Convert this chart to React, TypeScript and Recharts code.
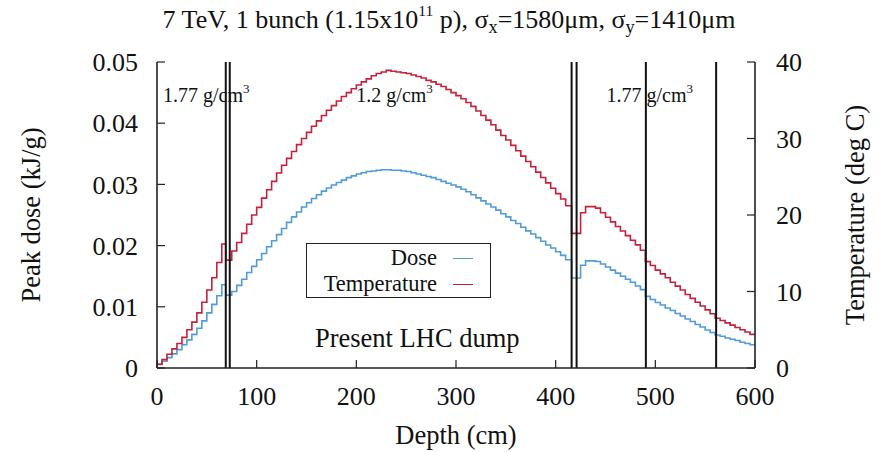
import React from 'react';
import { LineChart, Line, XAxis, YAxis, ReferenceLine, ReferenceDot, Legend } from 'recharts';

const FONT = '"Liberation Serif", "Times New Roman", serif';

// Bin start depths (cm); step functions (value holds until next depth)
const depthCm = [
  0, 5, 10, 15, 20, 25, 30, 35, 40, 45, 50, 55, 60, 65,
  69, 75, 80, 85, 90, 95, 100, 105, 110, 115,
  120, 125, 130, 135, 140, 145, 150, 155, 160, 165,
  170, 175, 180, 185, 190, 195, 200, 205, 210, 215,
  220, 225, 230, 235, 240, 245, 250, 255, 260, 265,
  270, 275, 280, 285, 290, 295, 300, 305, 310, 315,
  320, 325, 330, 335, 340, 345, 350, 355, 360, 365,
  370, 375, 380, 385, 390, 395, 400, 405, 410,
  416, 425, 430, 435, 440, 445, 450, 455, 460, 465, 470, 475, 480, 485,
  490, 495, 500, 505, 510, 515, 520, 525, 530, 535, 540, 545, 550, 555,
  560, 565, 570, 575, 580, 585, 590, 595, 600,
];

// Peak dose (kJ/g)
const peakDose = [
  0.0006, 0.0011, 0.0017, 0.0023, 0.0030, 0.0038, 0.0046, 0.0055, 0.0065, 0.0077, 0.0090, 0.0104, 0.0118, 0.0136,
  0.0119, 0.0125, 0.0135, 0.0145, 0.0156, 0.0166, 0.0177, 0.0187, 0.0198, 0.0208,
  0.0218, 0.0228, 0.0238, 0.0247, 0.0255, 0.0263, 0.0270, 0.0277, 0.0283, 0.0289,
  0.0294, 0.0299, 0.0303, 0.0307, 0.0311, 0.0314, 0.0317, 0.0319, 0.0321, 0.0322,
  0.0323, 0.0324, 0.0324, 0.0323, 0.0323, 0.0322, 0.0321, 0.0319, 0.0317, 0.0315,
  0.0313, 0.0311, 0.0308, 0.0305, 0.0302, 0.0299, 0.0296, 0.0292, 0.0288, 0.0283,
  0.0278, 0.0273, 0.0268, 0.0263, 0.0258, 0.0252, 0.0247, 0.0241, 0.0236, 0.0230,
  0.0224, 0.0219, 0.0213, 0.0207, 0.0201, 0.0196, 0.0190, 0.0184, 0.0177,
  0.0147, 0.0168, 0.0175, 0.0175, 0.0174, 0.0170, 0.0165, 0.0160, 0.0155, 0.0150, 0.0145, 0.0140, 0.0134, 0.0128,
  0.0117, 0.0112, 0.0107, 0.0103, 0.0098, 0.0094, 0.0089, 0.0085, 0.0080, 0.0076, 0.0071, 0.0067, 0.0062, 0.0058,
  0.0054, 0.0052, 0.0049, 0.0047, 0.0045, 0.0042, 0.0040, 0.0038, 0.0038,
];

// Temperature (deg C)
const temperature = [
  0.5, 1.1, 1.8, 2.5, 3.2, 4.0, 5.0, 6.0, 7.2, 8.6, 10.2, 11.8, 13.8, 16.2,
  14.1, 15.3, 16.4, 17.6, 18.8, 20.0, 21.0, 22.2, 23.3, 24.4,
  25.5, 26.5, 27.4, 28.3, 29.2, 30.0, 30.8, 31.6, 32.3, 33.0,
  33.7, 34.3, 34.9, 35.5, 36.0, 36.5, 37.0, 37.4, 37.8, 38.2,
  38.5, 38.7, 38.9, 38.8, 38.7, 38.6, 38.5, 38.3, 38.1, 37.9,
  37.6, 37.4, 37.1, 36.8, 36.4, 36.0, 35.6, 35.2, 34.7, 34.2,
  33.6, 33.0, 32.4, 31.8, 31.1, 30.4, 29.8, 29.1, 28.4, 27.7,
  27.0, 26.3, 25.6, 24.9, 24.2, 23.5, 22.8, 22.1, 21.2,
  17.6, 20.3, 21.1, 21.1, 20.9, 20.3, 19.7, 19.1, 18.5, 17.9, 17.3, 16.7, 16.1, 15.4,
  13.9, 13.4, 12.8, 12.3, 11.8, 11.2, 10.7, 10.2, 9.6, 9.1, 8.6, 8.1, 7.6, 7.1,
  6.5, 6.2, 5.9, 5.6, 5.3, 5.0, 4.7, 4.4, 4.4,
];

const depthTicks = [0, 100, 200, 300, 400, 500, 600];
const doseTicks = [0, 0.01, 0.02, 0.03, 0.04, 0.05];
const tempTicks = [0, 10, 20, 30, 40];
const boundaries = [69, 73, 416, 421, 490.5, 561];
const densityLabels = [
  { depth: 6, dose: 0.0435, text: '1.77 g/cm' },
  { depth: 200, dose: 0.0435, text: '1.2 g/cm' },
  { depth: 451, dose: 0.0435, text: '1.77 g/cm' },
];
const noteLabel = { depth: 158.5, dose: 0.0035, text: 'Present LHC dump' };

const BLUE = '#4f9bdc';
const RED = '#c8203a';

const data = depthCm.map((d, i) => ({ depth: d, dose: peakDose[i], temp: temperature[i] }));

const LegendBox = (props: any) => {
  const payload = props.payload || [];
  return (
    <div
      style={{
        boxSizing: 'border-box',
        width: 185,
        height: 55,
        border: '1.6px solid #222',
        background: '#fff',
        fontFamily: FONT,
        fontSize: 22.5,
        color: '#111',
        paddingTop: 1,
      }}
    >
      {payload.map((p: any) => (
        <div
          key={p.value}
          style={{ display: 'flex', justifyContent: 'flex-end', alignItems: 'center', height: 26, lineHeight: '26px' }}
        >
          <span>{p.value}</span>
          <span
            style={{ display: 'inline-block', width: 20, height: 0, borderTop: `1.6px solid ${p.color}`, margin: '0 17px 0 16px' }}
          />
        </div>
      ))}
    </div>
  );
};

const DensityText = (text: string) => (props: any) => (
  <text x={props.cx} y={props.cy} fontFamily={FONT} fontSize={20} fill="#111" textAnchor="start">
    {text}
    <tspan fontSize={13} dy={-9}>3</tspan>
  </text>
);

const NoteText = (props: any) => (
  <text x={props.cx} y={props.cy} fontFamily={FONT} fontSize={26.5} fill="#111" textAnchor="start">
    {noteLabel.text}
  </text>
);

export default function App() {
  const tickStyle = { fontFamily: FONT, fontSize: 26, fill: '#111' };
  return (
    <div style={{ position: 'absolute', left: 0, top: 0, width: 879, height: 452, background: '#fff' }}>
      <div
        style={{
          position: 'absolute',
          left: 0,
          top: 6,
          width: 898,
          textAlign: 'center',
          fontFamily: FONT,
          fontSize: 26,
          lineHeight: '27px',
          color: '#111',
          whiteSpace: 'nowrap',
          zIndex: 2,
        }}
      >
        7 TeV, 1 bunch (1.15x10
        <span style={{ fontSize: '0.6em', position: 'relative', top: '-0.75em' }}>11</span> p), σ
        <span style={{ fontSize: '0.7em', position: 'relative', top: '0.3em' }}>x</span>=1580μm, σ
        <span style={{ fontSize: '0.7em', position: 'relative', top: '0.3em' }}>y</span>=1410μm
      </div>
      <LineChart width={879} height={452} data={data} margin={{ top: 62, right: 0, bottom: 0, left: 0 }}>
        <XAxis
          dataKey="depth"
          type="number"
          domain={[0, 600]}
          ticks={depthTicks}
          height={84}
          tickSize={-8}
          tickMargin={26.5}
          tick={tickStyle}
          axisLine={{ stroke: '#222', strokeWidth: 1.6 }}
          tickLine={{ stroke: '#222', strokeWidth: 1.2 }}
          label={(p: any) => (
            <text x={456} y={444} textAnchor="middle" fontFamily={FONT} fontSize={26.5} fill="#111">
              Depth (cm)
            </text>
          )}
        />
        <XAxis
          xAxisId="top"
          orientation="top"
          dataKey="depth"
          type="number"
          domain={[0, 600]}
          ticks={depthTicks}
          height={0}
          tickSize={-8}
          tickFormatter={() => ''}
          axisLine={{ stroke: '#222', strokeWidth: 1.6 }}
          tickLine={{ stroke: '#222', strokeWidth: 1.2 }}
        />
        <YAxis
          yAxisId="left"
          domain={[0, 0.05]}
          ticks={doseTicks}
          width={157}
          tickSize={-8}
          tickMargin={27}
          tick={tickStyle}
          axisLine={{ stroke: '#222', strokeWidth: 1.6 }}
          tickLine={{ stroke: '#222', strokeWidth: 1.2 }}
          label={(p: any) => (
            <text x={40} y={215} transform="rotate(-90 40 215)" textAnchor="middle" fontFamily={FONT} fontSize={26.5} fill="#111">
              Peak dose (kJ/g)
            </text>
          )}
        />
        <YAxis
          yAxisId="right"
          orientation="right"
          domain={[0, 40]}
          ticks={tempTicks}
          width={124}
          tickSize={-8}
          tickMargin={29}
          tick={tickStyle}
          axisLine={{ stroke: '#222', strokeWidth: 1.6 }}
          tickLine={{ stroke: '#222', strokeWidth: 1.2 }}
          label={(p: any) => (
            <text x={864} y={215} transform="rotate(-90 864 215)" textAnchor="middle" fontFamily={FONT} fontSize={26.5} fill="#111">
              Temperature (deg C)
            </text>
          )}
        />
        <Legend
          layout="vertical"
          align="center"
          verticalAlign="middle"
          content={<LegendBox />}
          wrapperStyle={{ left: 306, top: 243, width: 185, height: 55 }}
        />
        <Line
          yAxisId="left"
          dataKey="dose"
          name="Dose"
          type="stepAfter"
          stroke={BLUE}
          strokeWidth={1.6}
          dot={false}
          activeDot={false}
          isAnimationActive={false}
        />
        <Line
          yAxisId="right"
          dataKey="temp"
          name="Temperature"
          type="stepAfter"
          stroke={RED}
          strokeWidth={1.6}
          dot={false}
          activeDot={false}
          isAnimationActive={false}
        />
        {boundaries.map((b) => (
          <ReferenceLine key={b} x={b} yAxisId="left" stroke="#111" strokeWidth={2} />
        ))}
        {densityLabels.map((l) => (
          <ReferenceDot key={l.depth} x={l.depth} y={l.dose} yAxisId="left" r={0} shape={DensityText(l.text)} />
        ))}
        <ReferenceDot x={noteLabel.depth} y={noteLabel.dose} yAxisId="left" r={0} shape={NoteText} />
      </LineChart>
    </div>
  );
}
